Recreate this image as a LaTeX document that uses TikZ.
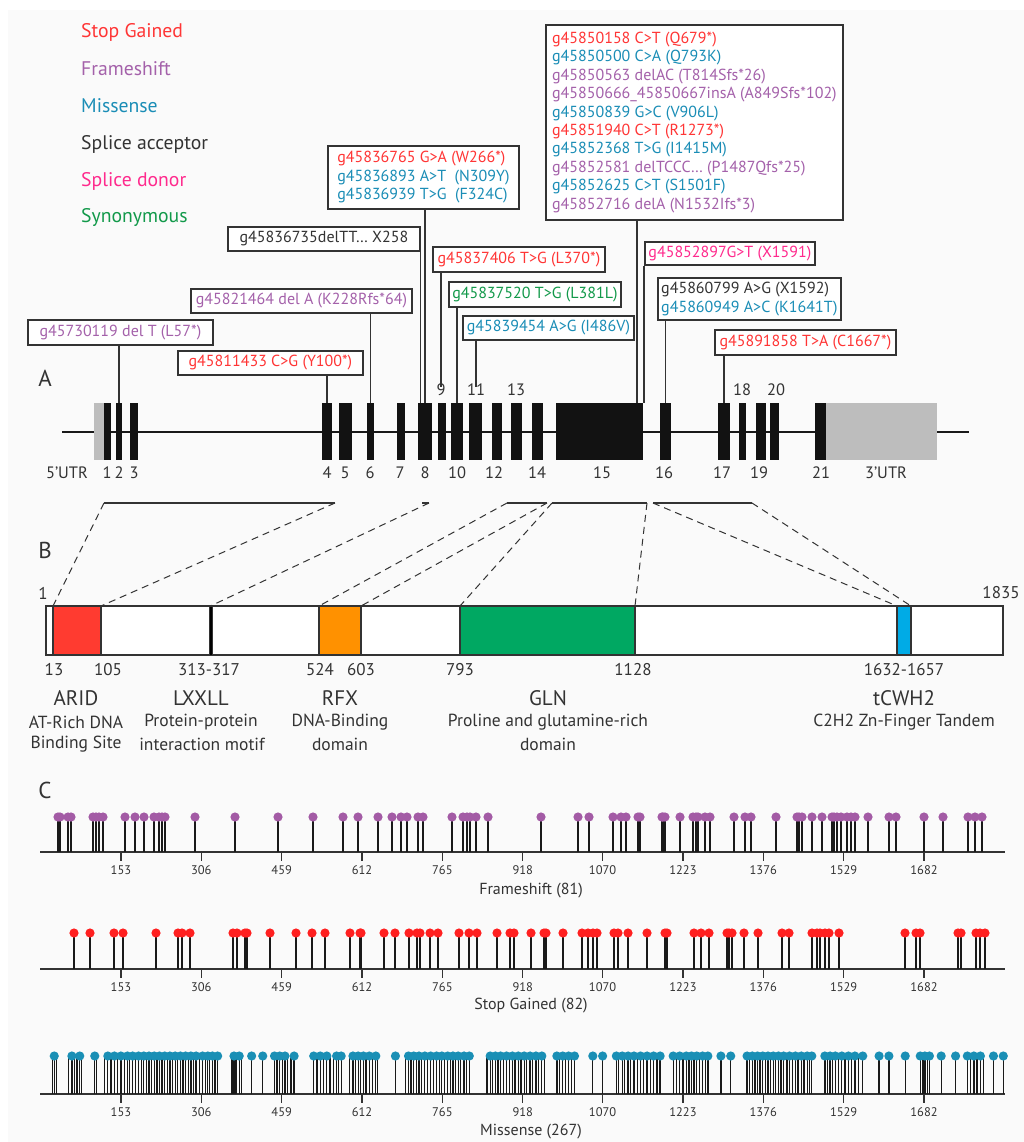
\documentclass[tikz,border=0pt]{standalone}
\usepackage{fontspec}
\setmainfont{PT Sans}
\definecolor{sgred}{HTML}{FF3535}
\definecolor{fspur}{HTML}{A461AA}
\definecolor{misbl}{HTML}{1A8DB6}
\definecolor{sdpink}{HTML}{FF2A8D}
\definecolor{syngr}{HTML}{12994A}
\definecolor{dk}{HTML}{333333}
\definecolor{bgc}{HTML}{FAFAFA}
\definecolor{utr}{HTML}{BDBDBD}
\definecolor{aridc}{HTML}{FF3B30}
\definecolor{rfxc}{HTML}{FF9100}
\definecolor{glnc}{HTML}{00A862}
\definecolor{tcwc}{HTML}{00ABE6}
\definecolor{ballred}{HTML}{FF2020}
\definecolor{ballpur}{HTML}{A35BA5}
\definecolor{ballbl}{HTML}{1A8FB5}
\newcommand\exonbox[3]{\path ({(#2+#3)/2},431.5) node[exon,minimum width={#3pt-#2pt}] (#1) {};}
\newcommand\domainbox[5]{\path ({(#2+#3)/2},630.5) node[dom,fill=#4,minimum width={#3pt-#2pt},#5] (#1) {};}
\newcommand\trackaxis[2]{%
  \draw[line width=1.4pt,dk] (40,#1) -- (1005,#1);
  \foreach \v in {153,306,459,612,765,918,1070,1223,1376,1529,1682}{
    \draw[line width=1.2pt,dk] ({40.6+0.5252*\v},#1) -- ({40.6+0.5252*\v},{#1+9});
    \node[ticklab] (#2\v) at ({40.6+0.5252*\v},{#1+18}) {\v};
  }}
\begin{document}
\begin{tikzpicture}[x=1pt,y=-1pt,
  leg/.style={anchor=west,inner sep=0pt,font=\fontsize{19.7}{22}\selectfont},
  abox/.style={draw=dk,line width=1.8pt,fill=white,anchor=north west,inner xsep=1pt,inner ysep=0pt,align=left,font=\fontsize{16}{18.4}\selectfont},
  conn/.style={draw=dk,line width=1.2pt},
  exon/.style={fill=black!93,inner sep=0pt,outer sep=0pt,minimum height=57pt},
  utrbox/.style={fill=utr,inner sep=0pt,outer sep=0pt,minimum height=57pt},
  exlab/.style={inner sep=0pt,font=\fontsize{16.5}{18}\selectfont,text=dk},
  panel/.style={inner sep=0pt,font=\fontsize{23}{26}\selectfont,text=dk},
  brk/.style={draw=dk,line width=1.5pt},
  dsh/.style={draw=dk,line width=1pt,dash pattern=on 7pt off 5pt},
  dom/.style={draw=dk,line width=1.3pt,inner sep=0pt,outer sep=0pt,minimum height=49pt},
  pnum/.style={inner sep=0pt,font=\fontsize{17}{19}\selectfont,text=dk},
  dname/.style={inner sep=0pt,font=\fontsize{21}{23}\selectfont,text=dk},
  ddesc/.style={inner sep=0pt,font=\fontsize{17.5}{20}\selectfont,text=dk},
  ticklab/.style={inner sep=0pt,font=\fontsize{12.5}{14}\selectfont,text=dk},
  ttitle/.style={inner sep=0pt,font=\fontsize{16}{18}\selectfont,text=dk},
  stick/.style={draw=black!90,line width=1.3pt}
]
\useasboundingbox (0,0) rectangle (1024,1142);
\fill[bgc] (8,10) rectangle (1024,1142);

% legend
\node[leg,text=sgred] (lg1) at (81,32) {Stop Gained};
\node[leg,text=fspur] (lg2) at (81,69) {Frameshift};
\node[leg,text=misbl] (lg3) at (81,106) {Missense};
\node[leg,text=dk] (lg4) at (81,144) {Splice acceptor};
\node[leg,text=sdpink] (lg5) at (81,181) {Splice donor};
\node[leg,text=syngr] (lg6) at (81,218) {Synonymous};

% panel labels
\node[panel] (pA) at (45,378) {A};
\node[panel] (pB) at (45,550) {B};
\node[panel] (pC) at (45,790) {C};

% gene model
\draw[line width=2pt,black!90] (62,432) -- (969,432);
\path (99,431.5) node[utrbox,minimum width=10pt] (u5box) {};
\path (881.5,431.5) node[utrbox,minimum width=111pt] (u3box) {};
\exonbox{e1}{104}{111}
\exonbox{e2}{116}{122}
\exonbox{e3}{130}{138}
\exonbox{e4}{322}{332}
\exonbox{e5}{339}{352}
\exonbox{e6}{367}{374}
\exonbox{e7}{397}{405}
\exonbox{e8}{418}{432}
\exonbox{e9}{438}{446}
\exonbox{e10}{451}{463}
\exonbox{e11}{469}{482}
\exonbox{e12}{492}{502}
\exonbox{e13}{511}{522}
\exonbox{e14}{532}{543}
\exonbox{e15}{556}{643}
\exonbox{e16}{660}{671}
\exonbox{e17}{718}{730}
\exonbox{e18}{739}{746}
\exonbox{e19}{756}{766}
\exonbox{e20}{770}{779}
\exonbox{e21}{815}{826}

% exon labels
\node[exlab] (u5) at (67,473) {5’UTR};
\node[exlab] (n1) at (107,473) {1};
\node[exlab] (n2) at (119,473) {2};
\node[exlab] (n3) at (134,473) {3};
\node[exlab] (n4) at (327,473) {4};
\node[exlab] (n5) at (345,473) {5};
\node[exlab] (n6) at (370,473) {6};
\node[exlab] (n7) at (400,473) {7};
\node[exlab] (n8) at (425,473) {8};
\node[exlab] (n10) at (457,473) {10};
\node[exlab] (n12) at (494,473) {12};
\node[exlab] (n14) at (537,473) {14};
\node[exlab] (n15) at (602,473) {15};
\node[exlab] (n16) at (664,473) {16};
\node[exlab] (n17) at (722,473) {17};
\node[exlab] (n19) at (759,473) {19};
\node[exlab] (n21) at (821,473) {21};
\node[exlab] (u3) at (886,473) {3’UTR};
\node[exlab] (n9) at (441,390) {9};
\node[exlab] (n11) at (476,390) {11};
\node[exlab] (n13) at (516,390) {13};
\node[exlab] (n18) at (742,390) {18};
\node[exlab] (n20) at (776,390) {20};

% annotation boxes
\node[abox,text=fspur,minimum width=185pt,minimum height=25pt] (bL57) at (27,319) {g45730119 del T (L57*)};
\node[abox,text=sgred,minimum width=185pt,minimum height=24pt] (bY100) at (177,350) {g45811433 C>G (Y100*)};
\node[abox,text=fspur,minimum width=221pt,minimum height=24pt] (bK228) at (190,288) {g45821464 del A (K228Rfs*64)};
\node[abox,text=dk,minimum width=192pt,minimum height=24pt] (bDel) at (227,226) {g45836735delTT… X258};
\node[abox,minimum width=191pt,minimum height=63pt] (bW266) at (327,145) {\textcolor{sgred}{g45836765 G>A (W266*)}\\\textcolor{misbl}{g45836893 A>T\ \ (N309Y)}\\\textcolor{misbl}{g45836939 T>G\ \ (F324C)}};
\node[abox,text=sgred,minimum width=172pt,minimum height=25pt] (bL370) at (432,246) {g45837406 T>G (L370*)};
\node[abox,text=syngr,minimum width=172pt,minimum height=25pt] (bL381) at (448,281) {g45837520 T>G (L381L)};
\node[abox,text=misbl,minimum width=171pt,minimum height=24pt] (bI486) at (462,315) {g45839454 A>G (I486V)};
\node[abox,minimum width=297pt,minimum height=195pt] (bBig) at (545,24) {\textcolor{sgred}{g45850158 C>T (Q679*)}\\\textcolor{misbl}{g45850500 C>A (Q793K)}\\\textcolor{fspur}{g45850563 delAC (T814Sfs*26)}\\\textcolor{fspur}{g45850666\_45850667insA (A849Sfs*102)}\\\textcolor{misbl}{g45850839 G>C (V906L)}\\\textcolor{sgred}{g45851940 C>T (R1273*)}\\\textcolor{misbl}{g45852368 T>G (I1415M)}\\\textcolor{fspur}{g45852581 delTCCC… (P1487Qfs*25)}\\\textcolor{misbl}{g45852625 C>T (S1501F)}\\\textcolor{fspur}{g45852716 delA (N1532Ifs*3)}};
\node[abox,text=sdpink,minimum width=170pt,minimum height=23pt] (bX1591) at (644,241) {g45852897G>T (X1591)};
\node[abox,minimum width=183pt,minimum height=42pt] (bX1592) at (657,277) {\textcolor{dk}{g45860799 A>G (X1592)}\\\textcolor{misbl}{g45860949 A>C (K1641T)}};
\node[abox,text=sgred,minimum width=181pt,minimum height=25pt] (bC1667) at (714,329) {g45891858 T>A (C1667*)};

% connectors
\draw[conn] (bL57.south -| e2.north) -- (e2.north);
\draw[conn] (bY100.south -| e4.north) -- (e4.north);
\draw[conn] (bK228.south -| e6.north) -- (e6.north);
\draw[conn] (bDel.south east) -- (bDel.south east |- e8.north);
\draw[conn] (bW266.south -| e8.north) -- (e8.north);
\draw[conn] (bL370.south -| n9.north) -- ([yshift=-3pt]n9.north);
\draw[conn] (bL381.south -| e10.north) -- (e10.north);
\draw[conn] (bI486.south -| n11.north) -- ([yshift=-3pt]n11.north);
\coordinate (c15) at ([xshift=-6pt]e15.north east);
\draw[conn] (bBig.south -| c15) -- (c15);
\draw[conn] (bX1591.south west) -- (bX1591.south west |- e15.north);
\draw[conn] (bX1592.south -| e16.north) -- (e16.north);
\draw[conn] (bC1667.south -| e17.north) -- (e17.north);

% brackets
\coordinate (k1a) at (104,503); \coordinate (k1b) at (335,503);
\coordinate (k2) at (429,503); \coordinate (k2s) at (422,503);
\coordinate (k3a) at (507,503); \coordinate (k3b) at (547,503);
\coordinate (k4a) at (552,503); \coordinate (k4b) at (647,503);
\coordinate (k5a) at (653,503); \coordinate (k5b) at (752,503);
\draw[brk] (k1a) -- (k1b);
\draw[brk] (k2s) -- (k2);
\draw[brk] (k3a) -- (k3b);
\draw[brk] (k4a) -- (k4b);
\draw[brk] (k5a) -- (k5b);

% protein bar
\path (524.5,630.5) node[dom,fill=white,minimum width=957pt] (bar) {};
\domainbox{arid}{53}{101}{aridc}{}
\domainbox{lxx}{209}{212}{black}{line width=0.6pt}
\domainbox{rfx}{319}{361}{rfxc}{}
\domainbox{gln}{460}{635}{glnc}{}
\domainbox{tcw}{897}{911}{tcwc}{}

% dashed projections
\draw[dsh] (k1a) -- (arid.north west);
\draw[dsh] (k1b) -- (arid.north east);
\draw[dsh] (k2) -- (lxx.north);
\draw[dsh] (k3a) -- (rfx.north west);
\draw[dsh] (k3b) -- (rfx.north east);
\draw[dsh] (k4a) -- (gln.north west);
\draw[dsh] (k4b) -- (gln.north east);
\draw[dsh] (k5a) -- (tcw.north west);
\draw[dsh] (k5b) -- (tcw.north east);

% protein numbers
\node[pnum] (p1) at (43,593) {1};
\node[pnum] (p1835) at (1001,593) {1835};
\node[pnum] (p13) at (54,670) {13};
\node[pnum] (p105) at (108,670) {105};
\node[pnum] (p313) at (209,670) {313-317};
\node[pnum] (p524) at (320,670) {524};
\node[pnum] (p603) at (361,670) {603};
\node[pnum] (p793) at (460,670) {793};
\node[pnum] (p1128) at (633,670) {1128};
\node[pnum] (p1632) at (904,670) {1632-1657};

% domain names
\node[dname] (nARID) at (76,698) {ARID};
\node[ddesc] (dARID1) at (76,722) {AT-Rich DNA};
\node[ddesc] (dARID2) at (76,744) {Binding Site};
\node[dname] (nLXX) at (201,698) {LXXLL};
\node[ddesc] (dLXX1) at (201,722) {Protein-protein};
\node[ddesc] (dLXX2) at (202,744) {interaction motif};
\node[dname] (nRFX) at (340,698) {RFX};
\node[ddesc] (dRFX1) at (340,722) {DNA-Binding};
\node[ddesc] (dRFX2) at (340,744) {domain};
\node[dname] (nGLN) at (548,698) {GLN};
\node[ddesc] (dGLN1) at (548,722) {Proline and glutamine-rich};
\node[ddesc] (dGLN2) at (548,744) {domain};
\node[dname] (nTCW) at (904,698) {tCWH2};
\node[ddesc] (dTCW1) at (904,722) {C2H2 Zn-Finger Tandem};

% C: frameshift
\trackaxis{852}{tf}
\foreach \p in {58,60,68,71,93,96,99,103,125,135,144,154,159,162,165,195,235,278,313,343,358,378,392,401,407,418,423,452,463,467,470,476,488,541,578,589,613,621,626,638,640,662,663,665,680,693,696,698,705,710,734,745,751,776,797,799,802,812,822,832,834,837,841,847,851,855,868,889,896,924,943,968,975,982}
  {\draw[stick] (\p,817) -- (\p,852);}
\foreach \p in {58,60,68,71,93,96,99,103,125,135,144,154,159,162,165,195,235,278,313,343,358,378,392,401,407,418,423,452,463,467,470,476,488,541,578,589,613,621,626,638,640,662,663,665,680,693,696,698,705,710,734,745,751,776,797,799,802,812,822,832,834,837,841,847,851,855,868,889,896,924,943,968,975,982}
  {\fill[ballpur] (\p,817) circle (4.6);}
\node[ttitle] (tFS) at (531,891) {Frameshift (81)};

% C: stop gained
\trackaxis{969}{ts}
\foreach \p in {74,90,114,123,156,178,182,190,233,237,245,247,270,296,312,325,350,360,361,384,395,409,417,420,430,438,459,469,477,497,510,514,531,544,546,563,582,588,593,597,614,618,628,647,665,667,694,701,709,727,729,732,744,758,782,789,812,817,820,825,829,839,905,916,920,958,961,976,980,985}
  {\draw[stick] (\p,933) -- (\p,969);}
\foreach \p in {74,90,114,123,156,178,182,190,233,237,245,247,270,296,312,325,350,360,361,384,395,409,417,420,430,438,459,469,477,497,510,514,531,544,546,563,582,588,593,597,614,618,628,647,665,667,694,701,709,727,729,732,744,758,782,789,812,817,820,825,829,839,905,916,920,958,961,976,980,985}
  {\fill[ballred] (\p,933) circle (4.6);}
\node[ttitle] (tSG) at (531,1006) {Stop Gained (82)};

% C: missense
\trackaxis{1094}{tm}
\foreach \p in {80,86,105,114,118,125,148,160,170,180,190,198,207,216,224,232,240,248,256,264,272,280,288,296,305,314,321,329,355,361,369,424,432,440,445,485,495,505,510,518,535,544,552,560,570,578,620,629,637,645,654,663,672,680,689,697,705,714,745,754,762,770,779,788,797,806,815,824,833,856,865,874,946,956,965,975,985,995,1005,1035,1045,1054,1062,1070,1079,1147,1155,1163,1171,1179,1187,1195,1204,1212,1221,1230,1238,1266,1274,1283,1293,1303,1314,1412,1419,1485,1495,1505}
  {\draw[stick] ({\p/1.53},1056) -- ({\p/1.53},1094);}
\foreach \p in {83,110,122,145,165,175,185,195,203,212,220,228,236,244,252,260,268,276,284,292,300,310,318,325,333,358,366,385,402,420,428,436,450,480,490,500,515,522,540,548,556,565,575,605,625,633,641,650,659,668,676,685,693,701,710,718,750,758,766,775,784,793,802,811,820,829,852,861,870,879,907,922,943,952,961,970,980,990,1000,1010,1030,1040,1050,1058,1066,1075,1083,1103,1118,1143,1151,1159,1167,1175,1183,1191,1199,1208,1217,1226,1235,1242,1262,1270,1278,1288,1298,1308,1320,1345,1360,1385,1408,1415,1422,1440,1462,1480,1490,1500,1520,1535}
  {\draw[stick] ({\p/1.53},1056) -- ({\p/1.53},1094);}
\foreach \p in {83,110,122,145,165,175,185,195,203,212,220,228,236,244,252,260,268,276,284,292,300,310,318,325,333,358,366,385,402,420,428,436,450,480,490,500,515,522,540,548,556,565,575,605,625,633,641,650,659,668,676,685,693,701,710,718,750,758,766,775,784,793,802,811,820,829,852,861,870,879,907,922,943,952,961,970,980,990,1000,1010,1030,1040,1050,1058,1066,1075,1083,1103,1118,1143,1151,1159,1167,1175,1183,1191,1199,1208,1217,1226,1235,1242,1262,1270,1278,1288,1298,1308,1320,1345,1360,1385,1408,1415,1422,1440,1462,1480,1490,1500,1520,1535}
  {\fill[ballbl] ({\p/1.53},1056) circle (4.6);}
\node[ttitle] (tMS) at (531,1132) {Missense (267)};
\end{tikzpicture}
\end{document}
